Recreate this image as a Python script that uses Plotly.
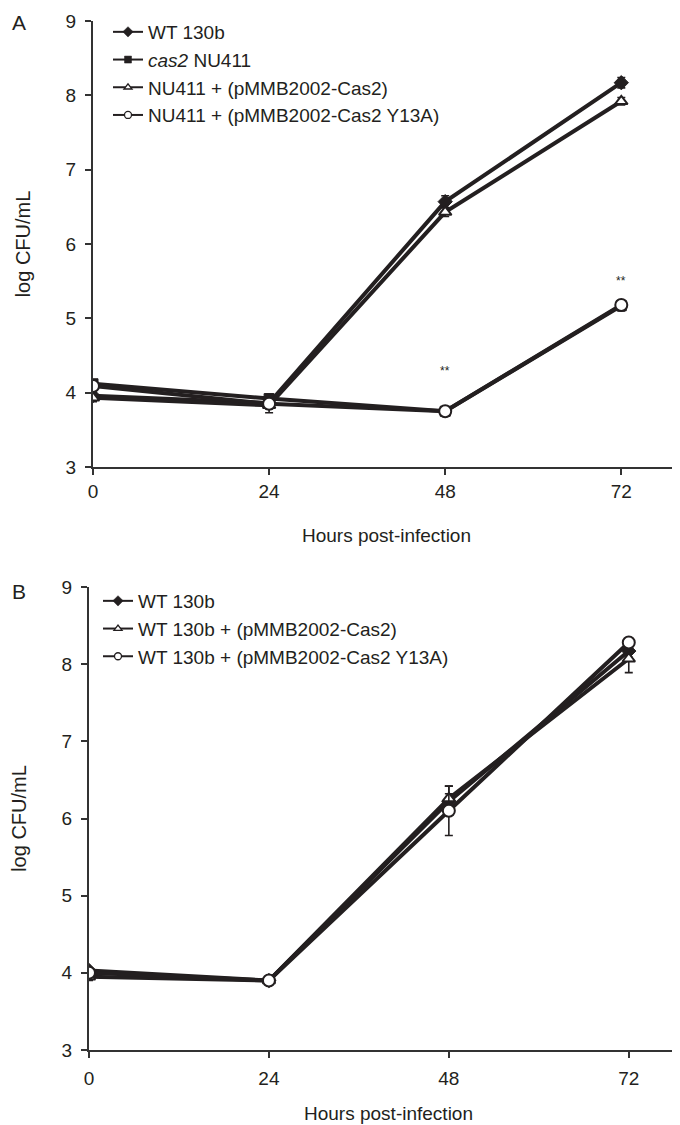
import plotly.graph_objects as go

hours = [0, 24, 48, 72]
x_ticks = [0, 24, 48, 72]
y_ticks = [3, 4, 5, 6, 7, 8, 9]

# Panel A
a_names = ["WT 130b", "<i>cas2</i> NU411", "NU411 + (pMMB2002-Cas2)", "NU411 + (pMMB2002-Cas2 Y13A)"]
a_wt = [3.96, 3.86, 6.57, 8.17]
a_wt_err = [0.04, 0.08, 0.08, 0.07]
a_cas2 = [4.12, 3.92, 3.75, 5.17]
a_cas2_err = [0.04, 0.06, 0.05, 0.07]
a_comp = [3.93, 3.83, 6.43, 7.92]
a_comp_err = [0.05, 0.10, 0.06, 0.05]
a_mut = [4.09, 3.85, 3.75, 5.18]
a_mut_err = [0.05, 0.06, 0.06, 0.06]
a_sig_x = [48, 72]
a_sig_y = [4.29, 5.50]

# Panel B
b_names = ["WT 130b", "WT 130b + (pMMB2002-Cas2)", "WT 130b + (pMMB2002-Cas2 Y13A)"]
b_wt = [4.03, 3.90, 6.22, 8.17]
b_wt_err = [0.03, 0.04, 0.10, 0.08]
b_comp = [3.95, 3.90, 6.26, 8.07]
b_comp_err = [0.05, 0.05, 0.16, 0.18]
b_mut = [4.00, 3.90, 6.10, 8.28]
b_mut_err = [0.04, 0.04, 0.32, 0.05]

INK = "#231f20"
AX = "#333333"
FONT = "Liberation Sans, Arial, sans-serif"

styles = {
    "diamond": dict(symbol="diamond", size=11, color=INK, line=dict(color=INK, width=1)),
    "square": dict(symbol="square", size=10, color=INK, line=dict(color=INK, width=1)),
    "triangle": dict(symbol="triangle-up", size=11, color="white", line=dict(color=INK, width=2)),
    "circle": dict(symbol="circle", size=12, color="white", line=dict(color=INK, width=2)),
}
leg_styles = {
    "diamond": dict(symbol="diamond", size=8, color=INK, line=dict(color=INK, width=0.5)),
    "square": dict(symbol="square", size=7, color=INK, line=dict(color=INK, width=0.5)),
    "triangle": dict(symbol="triangle-up", size=7, color="white", line=dict(color=INK, width=1.3)),
    "circle": dict(symbol="circle", size=7, color="white", line=dict(color=INK, width=1.3)),
}

fig = go.Figure()

def add(y, err, name, sty, xa, ya, leg):
    fig.add_trace(go.Scatter(
        x=hours, y=y, name=name, mode="lines+markers", showlegend=False,
        line=dict(color=INK, width=4),
        marker=styles[sty],
        error_y=dict(type="data", array=err, visible=True, color=INK, thickness=1.6, width=4),
        xaxis=xa, yaxis=ya,
    ))
    # legend-only entry with the small key style of the original
    fig.add_trace(go.Scatter(
        x=[None], y=[None], name=name, mode="lines+markers", showlegend=True,
        line=dict(color=INK, width=2), marker=leg_styles[sty],
        xaxis=xa, yaxis=ya, legend=leg,
    ))

add(a_wt, a_wt_err, a_names[0], "diamond", "x", "y", "legend")
add(a_cas2, a_cas2_err, a_names[1], "square", "x", "y", "legend")
add(a_comp, a_comp_err, a_names[2], "triangle", "x", "y", "legend")
add(a_mut, a_mut_err, a_names[3], "circle", "x", "y", "legend")

add(b_wt, b_wt_err, b_names[0], "diamond", "x2", "y2", "legend2")
add(b_comp, b_comp_err, b_names[1], "triangle", "x2", "y2", "legend2")
add(b_mut, b_mut_err, b_names[2], "circle", "x2", "y2", "legend2")

for sx, sy in zip(a_sig_x, a_sig_y):
    fig.add_annotation(x=sx, y=sy, xref="x", yref="y", text="**", showarrow=False,
                       font=dict(size=12, color=INK, family=FONT))

W, H = 680, 1125
axis_common = dict(showline=True, linecolor=AX, linewidth=2, ticks="outside", ticklen=6,
                   tickwidth=2, tickcolor=AX, showgrid=False, zeroline=False, automargin=False)
xfont = dict(size=19, color=INK, family=FONT)
yfont = dict(size=19, color=INK, family=FONT)

fig.update_layout(
    width=W, height=H, margin=dict(l=0, r=0, t=0, b=0),
    paper_bgcolor="white", plot_bgcolor="white",
    font=dict(family=FONT, color=INK),
    xaxis=dict(domain=[85 / W, 672 / W], range=[0, 80], tickvals=x_ticks, anchor="y",
               title=dict(text="Hours post-infection", font=xfont, standoff=28),
               tickfont=xfont, ticklabelstandoff=0, **axis_common),
    yaxis=dict(domain=[1 - 459 / H, 1 - 13 / H], range=[3, 9], tickvals=y_ticks, anchor="x",
               title=dict(text="log CFU/mL", font=dict(size=20, color=INK), standoff=30),
               tickfont=yfont, ticklabelstandoff=5, **axis_common),
    xaxis2=dict(domain=[81 / W, 1.0], range=[0, 79.9], tickvals=x_ticks, anchor="y2",
                title=dict(text="Hours post-infection", font=xfont, standoff=19),
                tickfont=xfont, ticklabelstandoff=4, **axis_common),
    yaxis2=dict(domain=[1 - 1042 / H, 1 - 579 / H], range=[3, 9], tickvals=y_ticks, anchor="x2",
                title=dict(text="log CFU/mL", font=dict(size=20, color=INK), standoff=30),
                tickfont=yfont, ticklabelstandoff=5, **axis_common),
    legend=dict(x=100 / W, y=1 - 5 / H, xanchor="left", yanchor="top",
                bgcolor="rgba(0,0,0,0)", font=dict(size=19, color=INK, family=FONT),
                itemsizing="trace", tracegroupgap=0),
    legend2=dict(x=90 / W, y=1 - 574 / H, xanchor="left", yanchor="top",
                 bgcolor="rgba(0,0,0,0)", font=dict(size=19, color=INK, family=FONT),
                 itemsizing="trace", tracegroupgap=0),
    showlegend=True,
)

fig.add_annotation(x=11 / W, y=1 - 14 / H, xref="paper", yref="paper", text="A", showarrow=False,
                   font=dict(size=21, color=INK, family=FONT), xanchor="center", yanchor="middle")
fig.add_annotation(x=11 / W, y=1 - 583 / H, xref="paper", yref="paper", text="B", showarrow=False,
                   font=dict(size=21, color=INK, family=FONT), xanchor="center", yanchor="middle")

fig.write_html("out.html")
